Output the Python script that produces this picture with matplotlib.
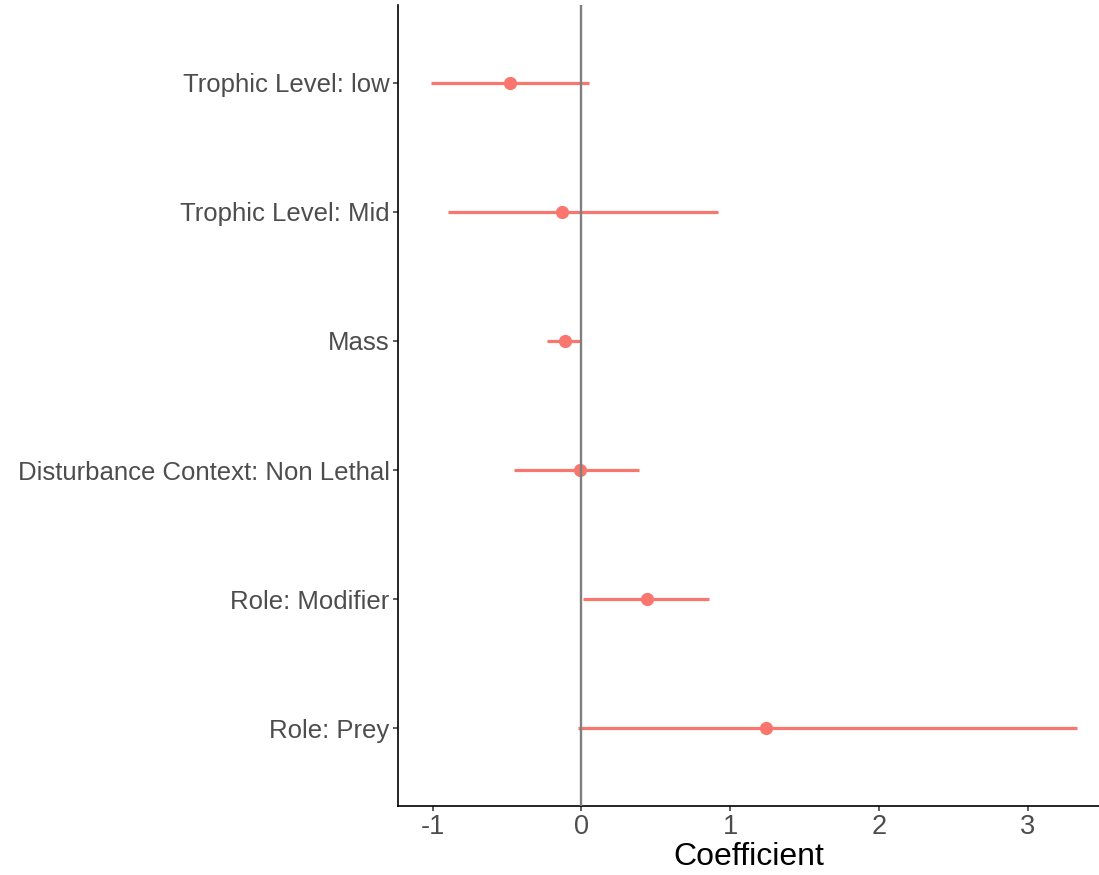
import matplotlib
matplotlib.use("Agg")
import matplotlib.pyplot as plt
import numpy as np

# coefficient estimates with confidence intervals, top row first
terms = [
    "Trophic Level: low",
    "Trophic Level: Mid",
    "Mass",
    "Disturbance Context: Non Lethal",
    "Role: Modifier",
    "Role: Prey",
]
estimate = [-0.48, -0.13, -0.11, -0.01, 0.44, 1.24]
ci_low = [-1.01, -0.90, -0.23, -0.45, 0.01, -0.02]
ci_high = [0.05, 0.92, 0.00, 0.39, 0.86, 3.33]
x_ticks = [-1, 0, 1, 2, 3]

plt.rcParams["font.family"] = ["Liberation Sans", "DejaVu Sans"]

RED = "#F8766D"
TXT = "#4D4D4D"

fig = plt.figure(figsize=(10.99, 8.75), dpi=100)
ax = fig.add_axes([0.362, 0.079, 0.638, 0.915])

ypos = np.arange(len(terms))[::-1] + 1
ax.hlines(ypos, ci_low, ci_high, color=RED, linewidth=2.3, zorder=2)
ax.plot(estimate, ypos, "o", color=RED, markersize=8.5, zorder=3)
ax.axvline(0, color="#7F7F7F", linewidth=1.7, zorder=4)

ax.set_yticks(ypos)
ax.set_yticklabels(terms)
ax.set_xticks(x_ticks)
ax.set_xticklabels([str(v) for v in x_ticks])
ax.set_ylim(0.4, len(terms) + 0.6)
ax.set_xlim(-1.234, 3.48)

for side in ("top", "right"):
    ax.spines[side].set_visible(False)
for side in ("left", "bottom"):
    ax.spines[side].set_color("black")
    ax.spines[side].set_linewidth(1.2)

ax.tick_params(axis="y", labelsize=18.5)
ax.tick_params(axis="x", labelsize=19.5)
ax.tick_params(axis="both", colors="#333333", labelcolor=TXT,
               length=3.5, width=1.1, direction="out", pad=2.5)
ax.set_xlabel("Coefficient", fontsize=23, color="black", labelpad=1)

fig.savefig("out.png", dpi=100, facecolor="white")
